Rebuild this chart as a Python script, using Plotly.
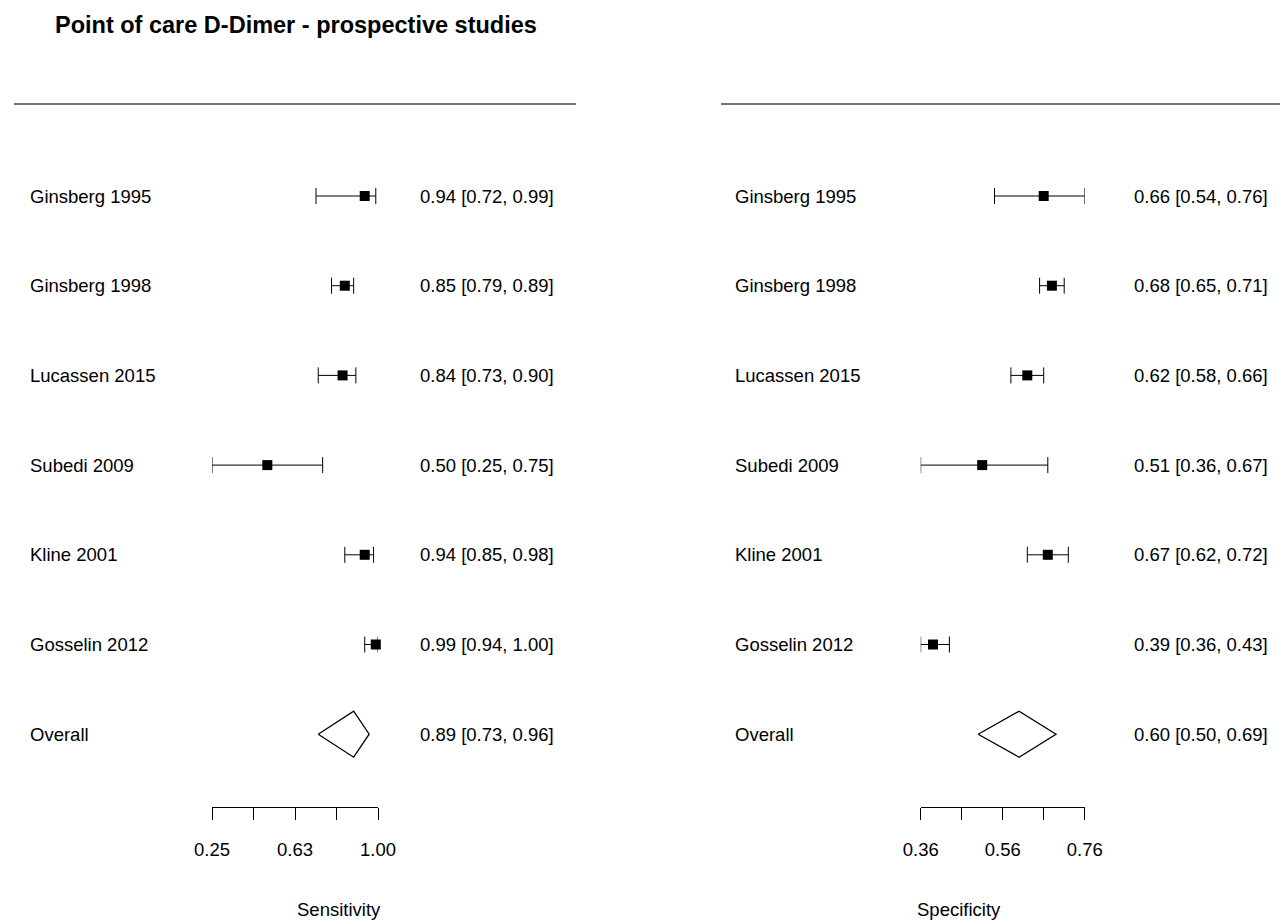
import plotly.graph_objects as go

# ===== data =====
STUDIES = ["Ginsberg 1995", "Ginsberg 1998", "Lucassen 2015", "Subedi 2009",
           "Kline 2001", "Gosselin 2012"]
SENS = [0.94, 0.85, 0.84, 0.50, 0.94, 0.99]
SENS_LO = [0.72, 0.79, 0.73, 0.25, 0.85, 0.94]
SENS_HI = [0.99, 0.89, 0.90, 0.75, 0.98, 1.00]
SPEC = [0.66, 0.68, 0.62, 0.51, 0.67, 0.39]
SPEC_LO = [0.54, 0.65, 0.58, 0.36, 0.62, 0.36]
SPEC_HI = [0.76, 0.71, 0.66, 0.67, 0.72, 0.43]
OVERALL_SENS = (0.89, 0.73, 0.96)
OVERALL_SPEC = (0.60, 0.50, 0.69)
SENS_TICKS = [0.25, 0.4375, 0.625, 0.8125, 1.0]
SENS_TICKTEXT = ["0.25", "", "0.63", "", "1.00"]
SPEC_TICKS = [0.36, 0.46, 0.56, 0.66, 0.76]
SPEC_TICKTEXT = ["0.36", "", "0.56", "", "0.76"]

W, H = 1280, 920
FONT = "Liberation Sans, Arial, sans-serif"
FS = 18.5
ROW0, ROWSTEP = 196, 89.7    # pixel y of the first row, row pitch
DIAMOND_H = 23 / ROWSTEP      # half height of summary diamond in row units


def py(pix):
    """pixel y -> paper y"""
    return 1 - pix / H


def px(pix):
    return pix / W


labels = STUDIES + ["Overall"]
rows = list(range(len(labels)))
n = len(STUDIES)

fig = go.Figure()


def panel(xa, est, lo, hi, overall):
    fig.add_trace(go.Scatter(
        x=est, y=rows[:n], xaxis=xa, yaxis="y", mode="markers",
        marker=dict(symbol="square", size=10, color="black"),
        error_x=dict(type="data", symmetric=False,
                     array=[h - e for h, e in zip(hi, est)],
                     arrayminus=[e - l for e, l in zip(est, lo)],
                     color="black", thickness=1, width=8),
        cliponaxis=False, showlegend=False, hoverinfo="skip"))
    e, l, h = overall
    r = rows[-1]
    fig.add_trace(go.Scatter(
        x=[l, e, h, e, l], y=[r, r - DIAMOND_H, r, r + DIAMOND_H, r],
        xaxis=xa, yaxis="y", mode="lines",
        line=dict(color="black", width=1.3),
        cliponaxis=False, showlegend=False, hoverinfo="skip"))


panel("x", SENS, SENS_LO, SENS_HI, OVERALL_SENS)
panel("x2", SPEC, SPEC_LO, SPEC_HI, OVERALL_SPEC)

ann = []
cis = [(SENS + [OVERALL_SENS[0]], SENS_LO + [OVERALL_SENS[1]], SENS_HI + [OVERALL_SENS[2]]),
       (SPEC + [OVERALL_SPEC[0]], SPEC_LO + [OVERALL_SPEC[1]], SPEC_HI + [OVERALL_SPEC[2]])]
for (name_x, ci_x), (est, lo, hi) in zip([(28, 418), (733, 1132)], cis):
    for i, lab in enumerate(labels):
        ann.append(dict(x=px(name_x), y=rows[i], xref="paper", yref="y",
                        text=lab, showarrow=False, xanchor="left",
                        yanchor="middle", font=dict(size=FS)))
        ann.append(dict(x=px(ci_x), y=rows[i], xref="paper", yref="y",
                        text=f"{est[i]:.2f} [{lo[i]:.2f}, {hi[i]:.2f}]",
                        showarrow=False, xanchor="left", yanchor="middle",
                        font=dict(size=FS)))

ann.append(dict(x=px(53), y=py(25), xref="paper", yref="paper",
                text="<b>Point of care D-Dimer - prospective studies</b>",
                showarrow=False, xanchor="left", yanchor="middle",
                font=dict(size=23.5)))
ann.append(dict(x=px(295), y=py(909), xref="paper", yref="paper",
                text="Sensitivity", showarrow=False, yanchor="middle",
                font=dict(size=FS)))
ann.append(dict(x=px(1003), y=py(909), xref="paper", yref="paper",
                text="Specificity", showarrow=False, yanchor="middle",
                font=dict(size=FS)))

shapes = [dict(type="line", xref="paper", yref="paper",
               x0=px(14), x1=px(576), y0=py(104), y1=py(104),
               line=dict(color="#444", width=1.3)),
          dict(type="line", xref="paper", yref="paper",
               x0=px(721), x1=1, y0=py(104), y1=py(104),
               line=dict(color="#444", width=1.3))]

# free axes would otherwise push the margins out and squeeze the page
axis_common = dict(anchor="free", position=py(806.7), showline=True,
                   linecolor="black", linewidth=1, ticks="outside",
                   ticklen=12, tickcolor="black", tickwidth=1,
                   showgrid=False, zeroline=False, automargin=False,
                   tickfont=dict(size=FS), ticklabelstandoff=14)

fig.update_layout(
    width=W, height=H,
    margin=dict(l=0, r=0, t=0, b=0, pad=0, autoexpand=False),
    paper_bgcolor="white", plot_bgcolor="white",
    font=dict(family=FONT, color="black", size=FS),
    xaxis=dict(domain=[px(212), px(378)], range=[0.25, 1.0],
               tickvals=SENS_TICKS, ticktext=SENS_TICKTEXT, **axis_common),
    xaxis2=dict(domain=[px(920.7), px(1084.7)], range=[0.36, 0.76],
                tickvals=SPEC_TICKS, ticktext=SPEC_TICKTEXT, **axis_common),
    yaxis=dict(domain=[0, 1],
               range=[(H - ROW0) / ROWSTEP, -ROW0 / ROWSTEP],
               visible=False),
    annotations=ann, shapes=shapes)

# drop the default 8px body margin so the 1280x920 figure fills the window
fig.write_html("out.html", config={"displayModeBar": False},
               post_script="document.body.style.margin='0';"
                           "document.body.style.overflow='hidden';")
